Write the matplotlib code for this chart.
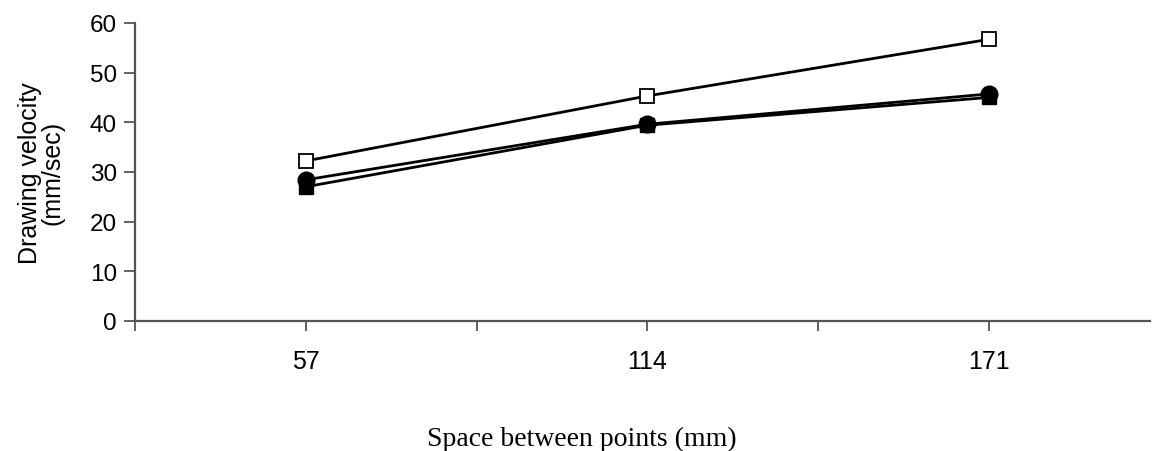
import matplotlib.pyplot as plt
import numpy as np

spacing = ["57", "114", "171"]
open_square = [32.2, 45.3, 56.7]
filled_circle = [28.4, 39.6, 45.7]
filled_square = [27.0, 39.4, 45.0]

plt.rcParams['font.family'] = ['Liberation Sans', 'DejaVu Sans']

fig = plt.figure(figsize=(11.53, 4.52), dpi=100)
ax = fig.add_axes([0.117, 0.288, 0.880, 0.659])

x = np.arange(len(spacing))
ax.plot(x, filled_square, color='black', lw=2.0, marker='s', ms=10, mfc='black', mec='black', zorder=3)
ax.plot(x, filled_circle, color='black', lw=2.0, marker='o', ms=12, mfc='black', mec='black', zorder=4)
ax.plot(x, open_square, color='black', lw=2.0, marker='s', ms=10, mfc='white', mec='black', mew=1.3, zorder=5)

ax.set_xlim(-0.5, 2.47)
ax.set_ylim(0, 60)
ax.set_yticks(range(0, 61, 10))
ax.set_xticks(x)
ax.set_xticklabels(spacing)
ax.set_xticks([-0.5, 0.5, 1.5], minor=True)

for s in ['top', 'right']:
    ax.spines[s].set_visible(False)
for s in ['left', 'bottom']:
    ax.spines[s].set_color('#555555')
    ax.spines[s].set_linewidth(1.6)

ax.tick_params(axis='y', direction='out', length=8, width=1.3, color='#555555', labelsize=17.5, pad=5)
ax.tick_params(axis='x', which='both', direction='out', length=7, width=1.3, color='#555555', labelsize=18, pad=13)

ax.set_ylabel('Drawing velocity\n(mm/sec)', fontsize=18, labelpad=18, linespacing=0.95)
fig.text(0.505, 0.013, 'Space between points (mm)', ha='center', va='baseline',
         fontsize=20, family='Liberation Serif')

fig.savefig('out.png', dpi=100)
